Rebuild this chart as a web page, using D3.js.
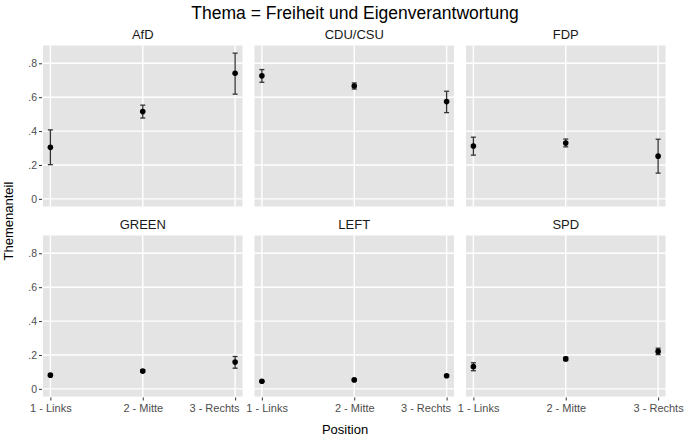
<!DOCTYPE html>
<html>
<head>
<meta charset="utf-8">
<script src="https://cdn.jsdelivr.net/npm/d3@7"></script>
<style>
  body { margin: 0; background: #fff; }
  svg text { font-family: "Liberation Sans", Arial, Helvetica, sans-serif; }
</style>
</head>
<body>
<div id="chart"></div>
<script>
// chart data
var parties = ["AfD", "CDU/CSU", "FDP", "GREEN", "LEFT", "SPD"];
var positions = ["1 - Links", "2 - Mitte", "3 - Rechts"];
var yTicks = [0, 0.2, 0.4, 0.6, 0.8];
var yTickLabels = ["0", ".2", ".4", ".6", ".8"];

// mean share per party, one value per position
var estimate = [
  [0.304, 0.515, 0.741],
  [0.726, 0.666, 0.574],
  [0.312, 0.329, 0.252],
  [0.081, 0.105, 0.158],
  [0.045, 0.053, 0.077],
  [0.131, 0.177, 0.221]
];
var lower = [
  [0.202, 0.477, 0.618],
  [0.688, 0.648, 0.509],
  [0.258, 0.307, 0.152],
  [0.075, 0.098, 0.122],
  [0.041, 0.049, 0.072],
  [0.107, 0.167, 0.202]
];
var upper = [
  [0.407, 0.553, 0.860],
  [0.763, 0.684, 0.635],
  [0.364, 0.353, 0.352],
  [0.088, 0.112, 0.191],
  [0.049, 0.057, 0.082],
  [0.154, 0.187, 0.240]
];

var W = 685, H = 438;
var panelW = 199.5, panelH = 161;
var colX = [43, 254.5, 466];
var rowY = [45.5, 235.5];

var svg = d3.select("#chart").append("svg")
  .attr("width", W)
  .attr("height", H);

// title
svg.append("text")
  .attr("x", 355)
  .attr("y", 19)
  .attr("text-anchor", "middle")
  .style("font-size", "17.5px")
  .style("fill", "#000")
  .text("Thema = Freiheit und Eigenverantwortung");

var x = d3.scaleLinear().domain([0.92, 3.08]).range([0, panelW]);
var y = d3.scaleLinear().domain([-0.045, 0.905]).range([panelH, 0]);

parties.forEach(function (party, i) {
  var col = i % 3, row = Math.floor(i / 3);
  var g = svg.append("g")
    .attr("transform", "translate(" + colX[col] + "," + rowY[row] + ")");

  g.append("rect")
    .attr("width", panelW)
    .attr("height", panelH)
    .style("fill", "#e4e4e4");

  // grid
  g.selectAll(".hgrid").data(yTicks).enter().append("line")
    .attr("x1", 0).attr("x2", panelW)
    .attr("y1", function (d) { return y(d); })
    .attr("y2", function (d) { return y(d); })
    .style("stroke", "#fff").style("stroke-width", 1.4);
  g.selectAll(".vgrid").data([1, 2, 3]).enter().append("line")
    .attr("y1", 0).attr("y2", panelH)
    .attr("x1", function (d) { return x(d); })
    .attr("x2", function (d) { return x(d); })
    .style("stroke", "#fff").style("stroke-width", 1.4);

  // strip label
  g.append("text")
    .attr("x", panelW / 2)
    .attr("y", -6.5)
    .attr("text-anchor", "middle")
    .style("font-size", "13px")
    .style("fill", "#1a1a1a")
    .text(party);

  // y axis on left column
  if (col === 0) {
    var yAxis = d3.axisLeft(y)
      .tickValues(yTicks)
      .tickSize(3)
      .tickPadding(2)
      .tickFormat(function (d, k) { return yTickLabels[k]; });
    var ya = g.append("g").attr("transform", "translate(-1,0)").call(yAxis);
    ya.select(".domain").remove();
    ya.selectAll("line").style("stroke", "#333").style("stroke-width", 1);
    ya.selectAll("text").style("font-size", "10.5px").style("fill", "#4d4d4d")
      .style("font-family", "'Liberation Sans', Arial, sans-serif");
  }

  // x axis on bottom row
  if (row === 1) {
    var xAxis = d3.axisBottom(x)
      .tickValues([1, 2, 3])
      .tickSize(3)
      .tickPadding(4)
      .tickFormat(function (d) { return positions[d - 1]; });
    var xa = g.append("g").attr("transform", "translate(0," + (panelH + 1) + ")").call(xAxis);
    xa.select(".domain").remove();
    xa.selectAll("line").style("stroke", "#333").style("stroke-width", 1);
    xa.selectAll("text").style("font-size", "11px").style("fill", "#4d4d4d")
      .style("font-family", "'Liberation Sans', Arial, sans-serif");
    // neighbouring panels share edge labels: nudge them apart like the original
    xa.selectAll(".tick text")
      .attr("text-anchor", function (d) { return (d === 3 && col < 2) ? "end" : "middle"; })
      .attr("x", function (d) {
        if (d === 3 && col < 2) return 4;
        if (d === 1 && col > 0) return 4.7;
        return 0;
      });
  }

  var pts = estimate[i].map(function (v, k) {
    return { pos: k + 1, est: v, lo: lower[i][k], hi: upper[i][k] };
  });

  // error bars
  var eb = g.selectAll(".eb").data(pts).enter().append("g")
    .style("stroke", "#333").style("stroke-width", 1.3);
  eb.append("line")
    .attr("x1", function (d) { return x(d.pos); })
    .attr("x2", function (d) { return x(d.pos); })
    .attr("y1", function (d) { return y(d.lo); })
    .attr("y2", function (d) { return y(d.hi); });
  eb.append("line")
    .attr("x1", function (d) { return x(d.pos) - 2.5; })
    .attr("x2", function (d) { return x(d.pos) + 2.5; })
    .attr("y1", function (d) { return y(d.lo); })
    .attr("y2", function (d) { return y(d.lo); });
  eb.append("line")
    .attr("x1", function (d) { return x(d.pos) - 2.5; })
    .attr("x2", function (d) { return x(d.pos) + 2.5; })
    .attr("y1", function (d) { return y(d.hi); })
    .attr("y2", function (d) { return y(d.hi); });

  // points
  g.selectAll(".pt").data(pts).enter().append("circle")
    .attr("cx", function (d) { return x(d.pos); })
    .attr("cy", function (d) { return y(d.est); })
    .attr("r", 2.8)
    .style("fill", "#000");
});

// axis titles
svg.append("text")
  .attr("x", 345)
  .attr("y", 434)
  .attr("text-anchor", "middle")
  .style("font-size", "13px")
  .text("Position");

svg.append("text")
  .attr("transform", "translate(13,221) rotate(-90)")
  .attr("text-anchor", "middle")
  .style("font-size", "13px")
  .text("Themenanteil");
</script>
</body>
</html>
